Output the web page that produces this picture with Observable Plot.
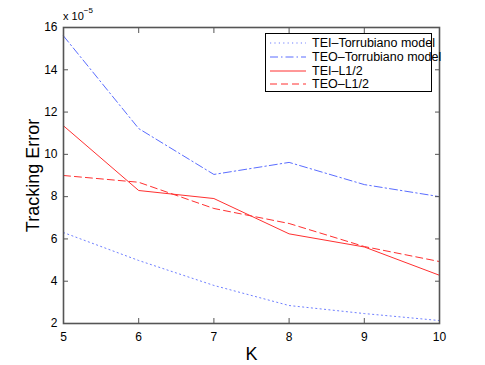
<!DOCTYPE html>
<html><head><meta charset="utf-8">
<script src="https://cdn.jsdelivr.net/npm/d3@7"></script>
<script src="https://cdn.jsdelivr.net/npm/@observablehq/plot@0.6"></script>
<style>
html,body{margin:0;padding:0;background:#fff;}
#wrap{position:relative;width:485px;height:365px;font-family:"Liberation Sans",Arial,sans-serif;}
#legend{position:absolute;left:265px;top:33px;width:167px;height:59px;border:1px solid #000;background:#fff;box-sizing:border-box;}
#legend .row{position:absolute;left:0;height:14px;width:100%;font-size:12.5px;line-height:14px;}
#legend svg{position:absolute;left:4px;top:0;}
#legend span{position:absolute;left:46px;top:0;white-space:nowrap;}
#exp{position:absolute;left:63px;top:8px;font-size:11px;}
</style>
</head><body>
<div id="wrap"></div>
<script>
const K = [5, 6, 7, 8, 9, 10];
const teiTorrubiano = [6.30, 4.98, 3.80, 2.85, 2.47, 2.14];
const teoTorrubiano = [15.6, 11.22, 9.05, 9.62, 8.57, 8.0];
const teiL12 = [11.35, 8.29, 7.91, 6.24, 5.62, 4.28];
const teoL12 = [9.0, 8.68, 7.44, 6.73, 5.64, 4.93];
const seriesNames = ["TEI\u2013Torrubiano model", "TEO\u2013Torrubiano model", "TEI\u2013L1/2", "TEO\u2013L1/2"];
const xTicks = [5, 6, 7, 8, 9, 10];
const yTicks = [2, 4, 6, 8, 10, 12, 14, 16];

const styles = [
  {stroke: "#6f7fff", dash: "1.2,3.2", width: 1},
  {stroke: "#5a6dff", dash: "8,3,1.5,3", width: 1},
  {stroke: "#ff3030", dash: null, width: 1},
  {stroke: "#ff3030", dash: "7,4", width: 1}
];
const allSeries = [teiTorrubiano, teoTorrubiano, teiL12, teoL12];
const data = allSeries.map((vals, i) => vals.map((v, j) => ({k: K[j], v, s: seriesNames[i]})));

const frameColor = "#555";
const noText = () => "";
const marks = [];
data.forEach((d, i) => {
  marks.push(Plot.line(d, {x: "k", y: "v", stroke: styles[i].stroke, strokeWidth: styles[i].width, strokeDasharray: styles[i].dash}));
});
marks.push(
  Plot.axisX({anchor: "bottom", ticks: xTicks, tickSize: 5, dy: -5, tickFormat: noText, stroke: frameColor, label: null}),
  Plot.axisX({anchor: "top", ticks: xTicks, tickSize: 5, dy: 5, tickFormat: noText, stroke: frameColor, label: null}),
  Plot.axisY({anchor: "left", ticks: yTicks, tickSize: 5, dx: 5, tickFormat: noText, stroke: frameColor, label: null}),
  Plot.axisY({anchor: "right", ticks: yTicks, tickSize: 5, dx: -5, tickFormat: noText, stroke: frameColor, label: null}),
  Plot.axisX({anchor: "bottom", ticks: xTicks, tickSize: 0, tickPadding: 9, tickFormat: "d", fontSize: 12, fill: "#000", label: "K", labelAnchor: "center", labelArrow: "none", labelOffset: 36}),
  Plot.axisY({anchor: "left", ticks: yTicks, tickSize: 0, tickPadding: 6, tickFormat: "d", fontSize: 12, fill: "#000", label: "Tracking Error", labelAnchor: "center", labelArrow: "none", labelOffset: 37}),
  Plot.frame({stroke: frameColor, strokeWidth: 1.6})
);

const chart = Plot.plot({
  width: 485, height: 365,
  marginLeft: 63, marginRight: 46, marginTop: 27, marginBottom: 42,
  style: {fontFamily: "'Liberation Sans', Arial, sans-serif", background: "#fff", overflow: "visible"},
  x: {domain: [5, 10]},
  y: {domain: [2, 16]},
  marks
});
chart.querySelectorAll("g[aria-label='x-axis label'], g[aria-label='y-axis label']").forEach(g => g.setAttribute("font-size", "18"));
const wrap = document.getElementById("wrap");
wrap.appendChild(chart);

const exp = document.createElement("div");
exp.id = "exp";
exp.innerHTML = "x 10<sup style='font-size:8px;position:relative;top:-2px'>\u22125</sup>";
wrap.appendChild(exp);

const legend = document.createElement("div");
legend.id = "legend";
seriesNames.forEach((name, i) => {
  const row = document.createElement("div");
  row.className = "row";
  row.style.top = (2 + i * 13.8) + "px";
  const st = styles[i];
  row.innerHTML = `<svg width="38" height="14"><line x1="0" x2="36" y1="7" y2="7" stroke="${st.stroke}" stroke-width="${st.width}" ${st.dash ? `stroke-dasharray="${st.dash}"` : ""}/></svg><span>${name}</span>`;
  legend.appendChild(row);
});
wrap.appendChild(legend);
</script>
</body></html>
